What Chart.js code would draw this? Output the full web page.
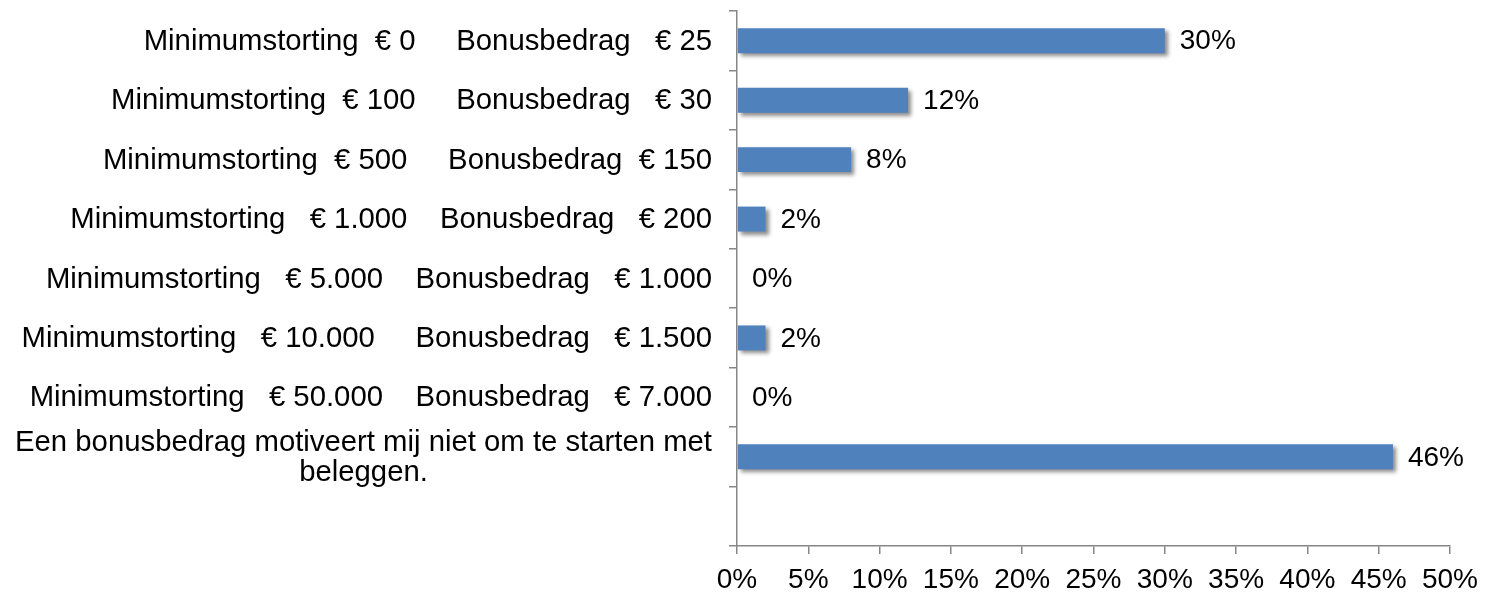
<!DOCTYPE html>
<html>
<head>
<meta charset="utf-8">
<script src="https://cdn.jsdelivr.net/npm/chart.js@4/dist/chart.umd.min.js"></script>
<style>
  html, body { margin: 0; padding: 0; background: #ffffff; }
  #wrap { width: 1487px; height: 593px; position: relative; }
</style>
</head>
<body>
<div id="wrap"><canvas id="c" width="1487" height="593"></canvas></div>
<script>
// ---- data ----
const categories = [
  ["Minimumstorting  € 0     Bonusbedrag   € 25"],
  ["Minimumstorting  € 100     Bonusbedrag   € 30"],
  ["Minimumstorting  € 500     Bonusbedrag  € 150"],
  ["Minimumstorting   € 1.000    Bonusbedrag   € 200"],
  ["Minimumstorting   € 5.000    Bonusbedrag   € 1.000"],
  ["Minimumstorting   € 10.000     Bonusbedrag   € 1.500"],
  ["Minimumstorting   € 50.000    Bonusbedrag   € 7.000"],
  ["Een bonusbedrag motiveert mij niet om te starten met", "beleggen."],
  [""]
];
const values = [30, 12, 8, 2, 0, 2, 0, 46, null];
const xTicks = [0, 5, 10, 15, 20, 25, 30, 35, 40, 45, 50];

const FONT = '"Liberation Sans", Arial, sans-serif';
const FS = 28;
const FS_CAT = 29.3;

const shadowPlugin = {
  id: 'shadow',
  beforeDatasetDraw(chart) {
    const ctx = chart.ctx;
    ctx.save();
    ctx.shadowColor = 'rgba(0,0,0,0.45)';
    ctx.shadowBlur = 4;
    ctx.shadowOffsetX = 3;
    ctx.shadowOffsetY = 3;
  },
  afterDatasetDraw(chart) {
    chart.ctx.restore();
  }
};

const labelsPlugin = {
  id: 'labels',
  afterDraw(chart) {
    const ctx = chart.ctx;
    const meta = chart.getDatasetMeta(0);
    const yScale = chart.scales.y;
    ctx.save();
    ctx.fillStyle = '#000000';
    ctx.textBaseline = 'middle';
    // value labels
    ctx.font = FS + 'px ' + FONT;
    meta.data.forEach((bar, i) => {
      const v = values[i];
      if (v === null || v === undefined) return;
      ctx.textAlign = 'left';
      ctx.fillText(v + '%', bar.x + 15, bar.y + 1);
    });
    // category labels
    ctx.font = FS_CAT + 'px ' + FONT;
    const rightEdge = chart.chartArea.left - 25;
    const lh = 30;
    categories.forEach((lines, i) => {
      const yc = yScale.getPixelForValue(i);
      if (lines.length === 1) {
        ctx.textAlign = 'right';
        ctx.fillText(lines[0], rightEdge, yc + 1);
      } else {
        const w = Math.max(...lines.map(l => ctx.measureText(l).width));
        const cx = rightEdge - w / 2;
        ctx.textAlign = 'center';
        const y0 = yc - (lines.length - 1) * lh / 2;
        lines.forEach((l, k) => ctx.fillText(l, cx, y0 + k * lh + 1));
      }
    });
    ctx.restore();
  }
};

new Chart(document.getElementById('c'), {
  type: 'bar',
  data: {
    labels: categories.map((c, i) => i),
    datasets: [{
      data: values,
      backgroundColor: '#4F81BD',
      borderWidth: 0,
      barPercentage: 0.42,
      categoryPercentage: 1.0
    }]
  },
  options: {
    indexAxis: 'y',
    responsive: false,
    animation: false,
    events: [],
    layout: { padding: { top: 11, right: 37, left: 0, bottom: 0 } },
    plugins: { legend: { display: false }, tooltip: { enabled: false } },
    scales: {
      y: {
        type: 'category',
        offset: true,
        grid: {
          offset: true,
          drawOnChartArea: false,
          drawTicks: true,
          tickLength: 8,
          color: '#868686',
          lineWidth: 1.5
        },
        border: { display: true, color: '#868686', width: 1.5 },
        ticks: { display: false },
        afterFit(scale) { scale.width = 737; }
      },
      x: {
        type: 'linear',
        min: 0,
        max: 50,
        afterBuildTicks(scale) { scale.ticks = xTicks.map(v => ({ value: v })); },
        grid: {
          drawOnChartArea: false,
          drawTicks: true,
          tickLength: 8,
          color: '#868686',
          lineWidth: 1.5
        },
        border: { display: true, color: '#868686', width: 1.5 },
        ticks: {
          color: '#000000',
          font: { family: FONT, size: FS },
          padding: 9,
          maxRotation: 0,
          autoSkip: false,
          callback: v => v + '%'
        },
        afterFit(scale) { scale.height = 47; }
      }
    }
  },
  plugins: [shadowPlugin, labelsPlugin]
});
</script>
</body>
</html>
